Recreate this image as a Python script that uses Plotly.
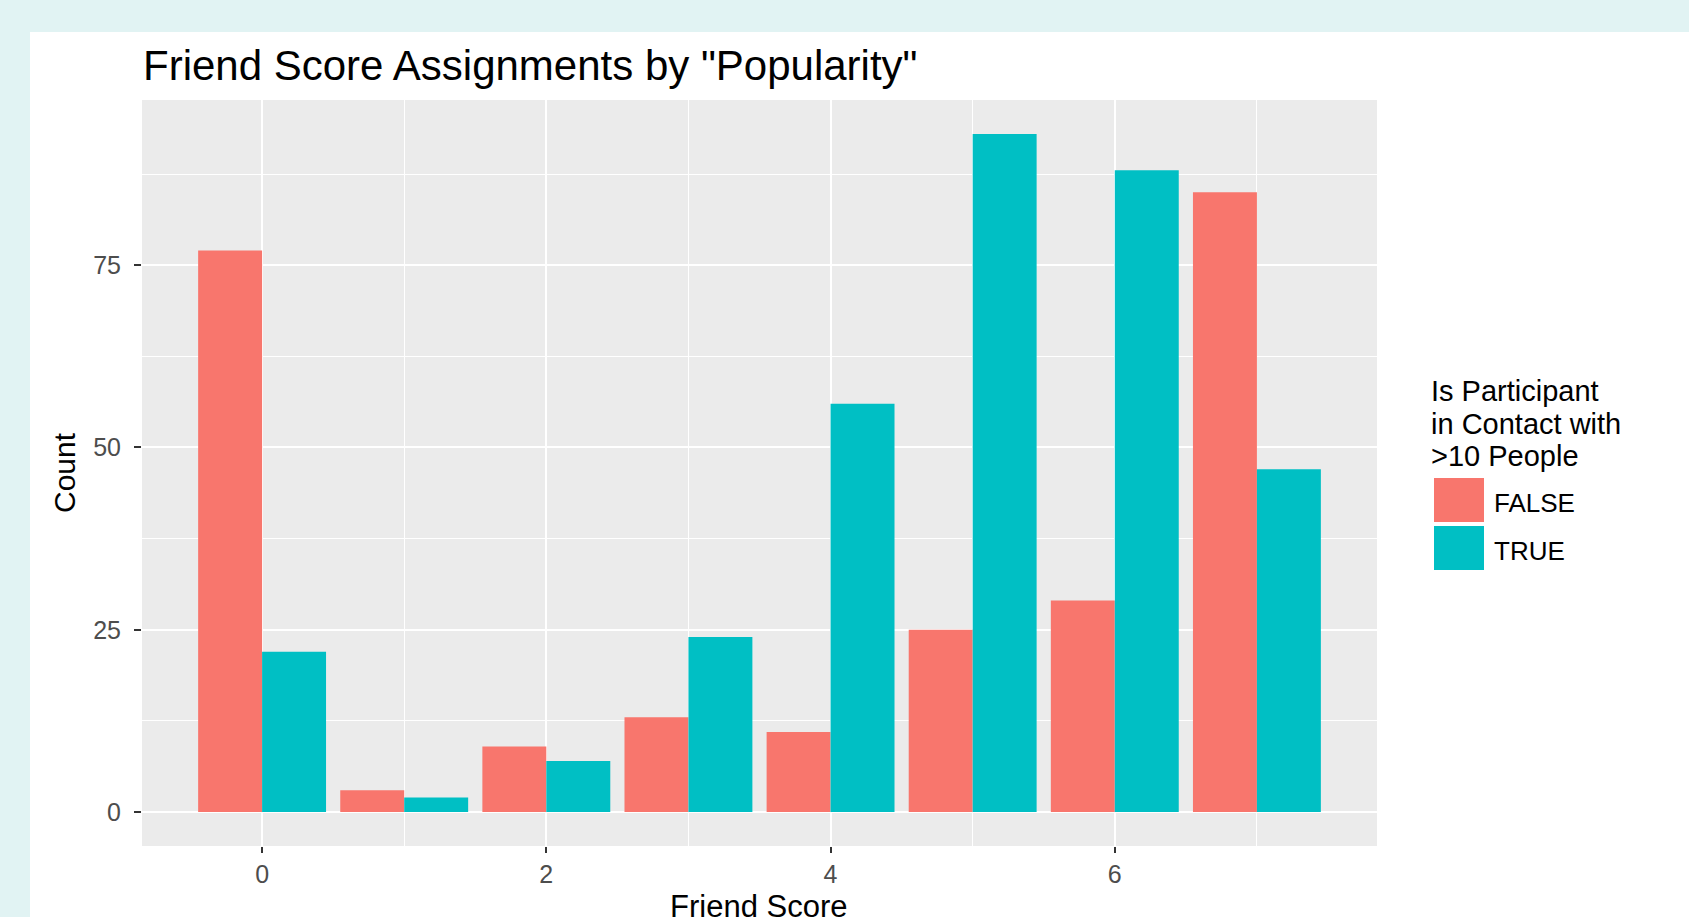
import plotly.graph_objects as go

# Data
friend_scores = [0, 1, 2, 3, 4, 5, 6, 7]
count_false = [77, 3, 9, 13, 11, 25, 29, 85]
count_true = [22, 2, 7, 24, 56, 93, 88, 47]
y_ticks = [0, 25, 50, 75]
x_ticks = [0, 2, 4, 6]
legend_labels = ["FALSE", "TRUE"]
legend_title_lines = ["Is Participant", "in Contact with", ">10 People"]
colors = ["#F8766D", "#00BFC4"]

W, H = 1689, 917
L, R, T, B = 142, 312, 100, 71
pw, ph = W - L - R, H - T - B
TEAL = "#E1F3F3"

def px_x(p):
    return (p - L) / pw

def px_y(p):
    return (H - B - p) / ph

fig = go.Figure()
fig.add_trace(go.Bar(x=friend_scores, y=count_false, name=legend_labels[0],
                     marker=dict(color=colors[0], line=dict(width=0))))
fig.add_trace(go.Bar(x=friend_scores, y=count_true, name=legend_labels[1],
                     marker=dict(color=colors[1], line=dict(width=0))))

shapes = [
    # teal page strips around the white card
    dict(type="rect", xref="paper", yref="paper", x0=px_x(-10), x1=px_x(W + 10),
         y0=px_y(32), y1=px_y(-10), fillcolor=TEAL, line=dict(width=0), layer="below"),
    dict(type="rect", xref="paper", yref="paper", x0=px_x(-10), x1=px_x(30),
         y0=px_y(H + 10), y1=px_y(-10), fillcolor=TEAL, line=dict(width=0), layer="below"),
]
annotations = []

# custom legend
key_tops = [478, 526]
for i, (lab, col) in enumerate(zip(legend_labels, colors)):
    top = key_tops[i]
    shapes.append(dict(type="rect", xref="paper", yref="paper",
                       x0=px_x(1434), x1=px_x(1484), y0=px_y(top + 44), y1=px_y(top),
                       fillcolor=col, line=dict(width=0)))
    annotations.append(dict(text=lab, xref="paper", yref="paper",
                            x=px_x(1492), y=px_y(top + 25), xanchor="left", yanchor="middle",
                            showarrow=False, font=dict(size=26, color="black")))
for line, yc in zip(legend_title_lines, [391, 424, 456]):
    annotations.append(dict(text=line, xref="paper", yref="paper", x=px_x(1430), y=px_y(yc),
                            xanchor="left", yanchor="middle", showarrow=False, borderpad=0,
                            font=dict(size=29, color="black")))

# x axis title (placed like the reference, partly below the page edge)
annotations.append(dict(text="Friend Score", xref="paper", yref="paper", x=px_x(758), y=px_y(906),
                        xanchor="center", yanchor="middle", showarrow=False, borderpad=0,
                        font=dict(size=31, color="black")))

fig.update_layout(
    width=W, height=H,
    margin=dict(l=L, r=R, t=T, b=B, autoexpand=False),
    paper_bgcolor="white",
    plot_bgcolor="#EBEBEB",
    barmode="group", bargap=0.1, bargroupgap=0,
    showlegend=False,
    font=dict(family="Liberation Sans, Arial, sans-serif"),
    title=dict(text='Friend Score Assignments by "Popularity"', x=px_x(143), xref="paper",
               xanchor="left", y=1 - 65 / H, yref="container", yanchor="middle",
               font=dict(size=42, color="black")),
    shapes=shapes,
    annotations=annotations,
)
fig.update_xaxes(range=[-0.845, 7.845], tickvals=x_ticks, ticks="outside", ticklen=6,
                 tickwidth=1.5, tickcolor="#333333", showgrid=True, gridcolor="white",
                 gridwidth=2, minor=dict(dtick=1, tick0=0, showgrid=True, gridcolor="white", gridwidth=1.3),
                 zeroline=False, tickfont=dict(size=25, color="#4D4D4D"))
fig.update_yaxes(range=[-4.65, 97.65], tickvals=y_ticks, ticks="outside", ticklen=7,
                 tickwidth=1.5, tickcolor="#333333", showgrid=True, gridcolor="white",
                 gridwidth=2, minor=dict(dtick=12.5, tick0=0, showgrid=True, gridcolor="white", gridwidth=1.3),
                 zeroline=False, tickfont=dict(size=25, color="#4D4D4D"), ticklabelstandoff=8,
                 title=dict(text="Count", font=dict(size=30, color="black"), standoff=8))

fig.write_html("out.html", config={"displayModeBar": False},
               post_script="document.body.style.margin='0px';document.body.style.padding='0px';"
                           "document.body.style.background='" + TEAL + "';")
